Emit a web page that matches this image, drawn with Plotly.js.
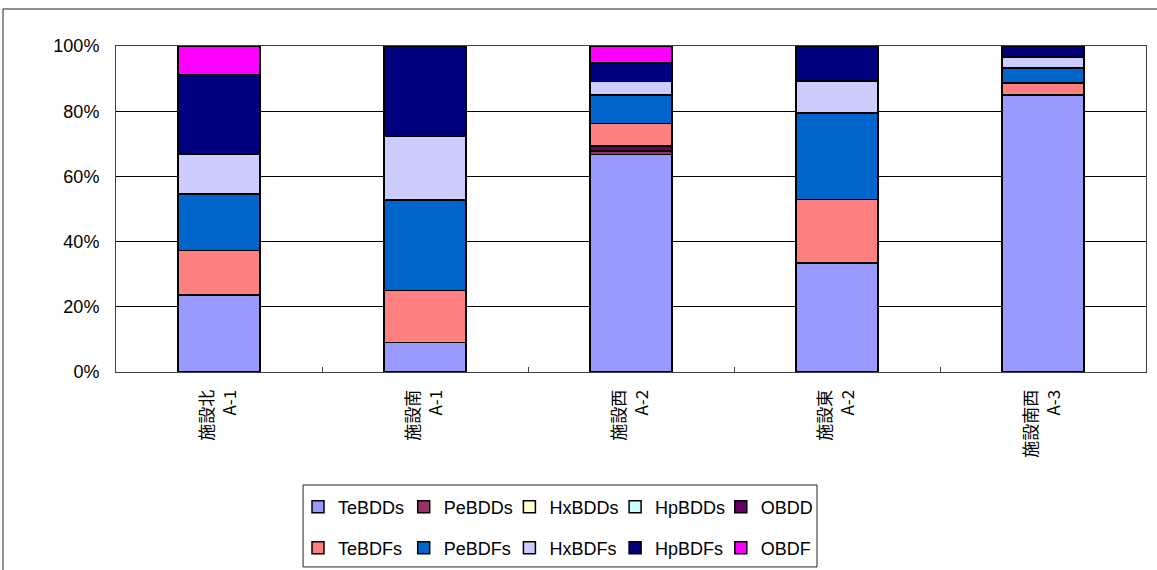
<!DOCTYPE html>
<html><head><meta charset="utf-8">
<script src="https://cdn.plot.ly/plotly-3.0.1.min.js"></script>
<style>html,body{margin:0;padding:0;background:#fff}#chart{width:1157px;height:570px}</style>
</head><body><div id="chart"></div>
<script>
const categories = ['施設北<br>A-1', '施設南<br>A-1', '施設西<br>A-2', '施設東<br>A-2', '施設南西<br>A-3'];
const seriesNames = ['TeBDDs', 'PeBDDs', 'HxBDDs', 'HpBDDs', 'OBDD', 'TeBDFs', 'PeBDFs', 'HxBDFs', 'HpBDFs', 'OBDF'];
const TeBDDs = [23.6, 9.0, 66.7, 33.5, 84.9];
const PeBDDs = [0, 0, 1.1, 0, 0];
const HxBDDs = [0, 0, 0, 0, 0];
const HpBDDs = [0, 0, 0, 0, 0];
const OBDD   = [0, 0, 1.5, 0, 0];
const TeBDFs = [13.7, 16.0, 6.9, 19.4, 3.7];
const PeBDFs = [17.3, 27.7, 8.8, 26.6, 4.7];
const HxBDFs = [12.2, 19.6, 4.1, 9.7, 3.3];
const HpBDFs = [24.5, 27.7, 5.7, 10.8, 3.4];
const OBDF   = [8.7, 0, 5.2, 0, 0];
const yTicks = [0, 20, 40, 60, 80, 100];

const seriesValues = [TeBDDs, PeBDDs, HxBDDs, HpBDDs, OBDD, TeBDFs, PeBDFs, HxBDFs, HpBDFs, OBDF];
const colors = ['#9999FF', '#993366', '#FFFFCC', '#CCFFFF', '#660066', '#FF8080', '#0066CC', '#CCCCFF', '#000080', '#FF00FF'];

const traces = seriesNames.map((name, i) => ({
  type: 'bar',
  name: name,
  x: categories,
  y: seriesValues[i],
  marker: {color: colors[i], line: {color: '#000', width: 1.5}},
  legend: i < 5 ? 'legend' : 'legend2',
  hoverinfo: 'name+y'
}));

const legendBase = {
  orientation: 'h',
  x: 0.1767, xanchor: 'left',
  yanchor: 'middle',
  font: {family: 'Liberation Sans, Arial, sans-serif', size: 18, color: '#000'},
  entrywidth: 60.7, entrywidthmode: 'pixels',
  bgcolor: 'rgba(0,0,0,0)', borderwidth: 0,
  traceorder: 'normal'
};

const layout = {
  width: 1157, height: 570,
  margin: {l: 116, r: 11, t: 46, b: 198, autoexpand: false},
  paper_bgcolor: '#fff', plot_bgcolor: '#fff',
  barmode: 'stack', barnorm: 'percent', bargap: 0.6,
  font: {family: 'Liberation Sans, Arial, sans-serif', color: '#000'},
  xaxis: {
    showline: true, mirror: true, linecolor: '#404040', linewidth: 1,
    ticks: 'inside', tickson: 'boundaries', ticklen: 5, tickcolor: '#404040',
    tickangle: -90, showgrid: false, automargin: false,
    tickfont: {family: 'Noto Sans CJK JP', size: 17, color: '#000'},
    ticklabelstandoff: 10
  },
  yaxis: {
    range: [0, 100], tickvals: yTicks, ticktext: yTicks.map(v => v + '%'),
    showgrid: true, gridcolor: '#000', gridwidth: 1, zeroline: false,
    showline: true, mirror: true, linecolor: '#404040', linewidth: 1,
    ticks: '', ticklabelstandoff: 12, automargin: false,
    tickfont: {family: 'Liberation Sans, Arial, sans-serif', size: 18, color: '#000'}
  },
  legend: Object.assign({}, legendBase, {y: -0.414}),
  legend2: Object.assign({}, legendBase, {y: -0.540}),
  shapes: [
    {type: 'rect', xref: 'paper', yref: 'paper', x0: 0.1816, x1: 0.6806, y0: -0.598, y1: -0.3466,
     line: {color: '#222', width: 1}, fillcolor: 'rgba(0,0,0,0)', layer: 'above'},
    {type: 'rect', xref: 'paper', yref: 'paper', x0: -0.1097, x1: 1.0136, y0: -0.6166, y1: 1.1135,
     line: {color: '#222', width: 1}, fillcolor: 'rgba(0,0,0,0)', layer: 'above'}
  ],
  showlegend: true
};

Plotly.newPlot('chart', traces, layout, {displayModeBar: false, staticPlot: true});
</script>
</body></html>
